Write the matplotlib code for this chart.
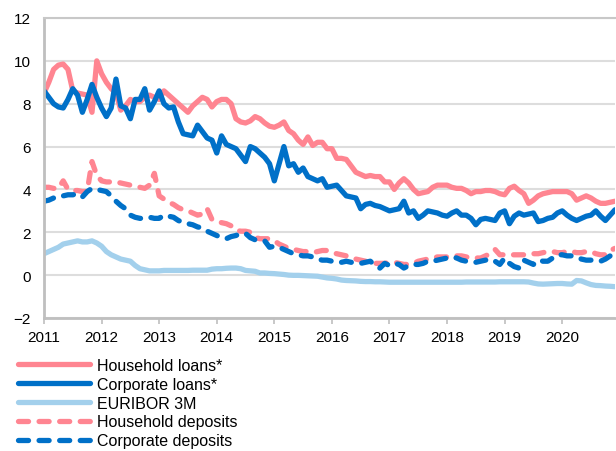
import numpy as np
import matplotlib.pyplot as plt

plt.rcParams['font.family'] = ['Liberation Sans', 'DejaVu Sans']

# monthly rates, Jan 2011 - Dec 2020 (one row per year)
household_loans = [
    8.5, 9.0, 9.6, 9.8, 9.85, 9.6, 8.6, 8.5, 8.45, 8.4, 7.6, 10.0,
    9.4, 9.0, 8.7, 8.5, 7.7, 7.9, 8.2, 8.1, 8.1, 8.3, 8.4, 8.3,
    8.2, 8.6, 8.4, 8.2, 8.0, 7.8, 7.6, 7.9, 8.1, 8.3, 8.2, 7.85,
    8.1, 8.2, 8.2, 8.0, 7.3, 7.15, 7.1, 7.2, 7.4, 7.3, 7.1, 6.95,
    6.9, 7.0, 7.15, 6.75, 6.6, 6.3, 6.1, 6.45, 6.05, 6.2, 6.2, 5.9,
    5.9, 5.45, 5.45, 5.4, 5.1, 4.8, 4.7, 4.6, 4.65, 4.6, 4.6, 4.35,
    4.35, 4.0, 4.3, 4.5, 4.3, 4.0, 3.8, 3.85, 3.9, 4.1, 4.2, 4.2,
    4.2, 4.1, 4.05, 4.05, 3.95, 3.8, 3.9, 3.9, 3.95, 3.95, 3.9, 3.8,
    3.75, 4.05, 4.15, 3.95, 3.8, 3.35, 3.5, 3.7, 3.8, 3.85, 3.9, 3.9,
    3.9, 3.9, 3.8, 3.5, 3.6, 3.7, 3.6, 3.45, 3.35, 3.35, 3.4, 3.45,
]
corporate_loans = [
    8.6, 8.3, 8.0, 7.85, 7.8, 8.2, 8.7, 8.4, 7.6, 8.2, 8.9, 8.3,
    7.8, 7.4, 7.8, 9.15, 7.9, 7.8, 7.3, 8.2, 8.2, 8.7, 7.7, 8.1,
    8.6, 8.0, 7.8, 7.85, 7.15, 6.6, 6.55, 6.5, 7.0, 6.7, 6.4, 6.3,
    5.7, 6.5, 6.1, 6.0, 5.9, 5.6, 5.3, 6.0, 5.9, 5.7, 5.5, 5.2,
    4.4, 5.2, 6.0, 5.1, 5.2, 4.8, 5.0, 4.6, 4.5, 4.4, 4.5, 4.1,
    4.15, 4.2, 3.95, 3.7, 3.65, 3.6, 3.1, 3.3, 3.35, 3.25, 3.2, 3.1,
    3.0, 3.05, 3.1, 3.45, 2.9, 3.0, 2.65, 2.8, 3.0, 2.95, 2.9, 2.8,
    2.75, 2.9, 3.0, 2.8, 2.8, 2.65, 2.35, 2.6, 2.65, 2.6, 2.55, 2.9,
    3.0, 2.4, 2.75, 2.9, 2.8, 2.85, 2.9, 2.5, 2.55, 2.65, 2.7, 2.9,
    3.0, 2.8, 2.65, 2.55, 2.65, 2.75, 2.8, 3.0, 2.75, 2.55, 2.8, 3.05,
]
euribor_3m = [
    1.0, 1.1, 1.2, 1.3, 1.45, 1.5, 1.55, 1.6, 1.55, 1.55, 1.6, 1.5,
    1.35, 1.1, 0.95, 0.85, 0.75, 0.7, 0.65, 0.45, 0.3, 0.25, 0.2, 0.2,
    0.2, 0.22, 0.22, 0.22, 0.22, 0.22, 0.22, 0.23, 0.23, 0.23, 0.23, 0.28,
    0.3, 0.3, 0.32, 0.33, 0.33, 0.3, 0.22, 0.2, 0.18, 0.1, 0.1, 0.08,
    0.07, 0.05, 0.03, 0.0, -0.01, -0.01, -0.02, -0.03, -0.04, -0.05, -0.09, -0.13,
    -0.15, -0.18, -0.23, -0.25, -0.26, -0.27, -0.29, -0.3, -0.3, -0.31, -0.31, -0.32,
    -0.33, -0.33, -0.33, -0.33, -0.33, -0.33, -0.33, -0.33, -0.33, -0.33, -0.33, -0.33,
    -0.33, -0.33, -0.33, -0.33, -0.32, -0.32, -0.32, -0.32, -0.32, -0.32, -0.32, -0.31,
    -0.31, -0.31, -0.31, -0.31, -0.31, -0.32, -0.37, -0.41, -0.42, -0.41, -0.40, -0.39,
    -0.39, -0.41, -0.42, -0.25, -0.27, -0.36, -0.44, -0.48, -0.49, -0.51, -0.52, -0.54,
]
household_deposits = [
    4.1, 4.1, 4.05, 4.05, 4.4, 4.0, 3.95, 3.95, 3.9, 3.9, 5.3, 4.65,
    4.4, 4.35, 4.35, 4.35, 4.3, 4.25, 4.2, 4.15, 4.1, 4.05, 4.2, 4.75,
    3.7, 3.55, 3.4, 3.3, 3.15, 3.05, 3.0, 2.9, 2.8, 2.85, 3.1, 2.6,
    2.5, 2.45, 2.4, 2.3, 2.1, 2.05, 2.05, 2.0, 1.75, 1.7, 1.7, 1.7,
    1.6, 1.45, 1.35, 1.25, 1.2, 1.15, 1.1, 1.1, 1.05, 1.1, 1.15, 1.15,
    1.05, 1.0, 0.95, 0.9, 0.8, 0.75, 0.7, 0.65, 0.6, 0.55, 0.55, 0.55,
    0.6, 0.6, 0.55, 0.5, 0.5, 0.55, 0.65, 0.7, 0.75, 0.8, 0.85, 0.85,
    0.85, 0.9, 0.9, 0.9, 0.85, 0.8, 0.8, 0.8, 0.9, 1.0, 1.2, 0.95,
    0.95, 0.95, 0.95, 0.95, 0.95, 1.0, 1.0, 1.0, 1.05, 1.1, 1.1, 1.05,
    1.05, 1.1, 1.1, 1.05, 1.05, 1.1, 1.1, 1.0, 0.95, 0.95, 1.15, 1.25,
]
corporate_deposits = [
    3.45, 3.5, 3.6, 3.6, 3.7, 3.75, 3.75, 3.8, 3.65, 3.9, 4.05, 4.0,
    3.95, 3.9, 3.7, 3.45, 3.25, 3.1, 2.8, 2.7, 2.65, 2.65, 2.7, 2.65,
    2.65, 2.8, 2.75, 2.7, 2.55, 2.45, 2.4, 2.35, 2.25, 2.2, 2.05, 1.95,
    1.85, 1.75, 1.7, 1.8, 1.85, 1.95, 1.95, 1.75, 1.65, 1.65, 1.6, 1.3,
    1.35, 1.3, 1.2, 1.1, 1.0, 0.95, 0.9, 0.9, 0.85, 0.75, 0.7, 0.7,
    0.65, 0.65, 0.6, 0.65, 0.6, 0.6, 0.55, 0.6, 0.65, 0.45, 0.33, 0.55,
    0.45, 0.55, 0.5, 0.33, 0.45, 0.5, 0.5, 0.55, 0.65, 0.65, 0.7, 0.75,
    0.8, 0.85, 0.8, 0.7, 0.65, 0.65, 0.6, 0.65, 0.7, 0.75, 0.65, 0.5,
    0.8, 0.55, 0.4, 0.33, 0.7, 0.6, 0.5, 0.7, 0.65, 0.65, 0.8, 0.95,
    0.95, 0.9, 0.9, 0.85, 0.75, 0.7, 0.7, 0.65, 0.65, 0.75, 0.9, 0.95,
]
years = [str(y) for y in range(2011, 2021)]

pink = '#FF8591'
blue = '#0070C8'
light = '#A3D0EC'

months = np.arange(len(household_loans))

fig = plt.figure(figsize=(6.16, 4.52), dpi=100)
ax = fig.add_axes([44 / 616, 1 - 319 / 452, 571 / 616, 300 / 452])

lw = 3.8
dash = (0, (1.9, 2.0))
ax.plot(months, household_loans, color=pink, lw=lw, label='Household loans*', solid_capstyle='round')
ax.plot(months, corporate_loans, color=blue, lw=lw, label='Corporate loans*', solid_capstyle='round')
ax.plot(months, euribor_3m, color=light, lw=lw, label='EURIBOR 3M', solid_capstyle='round')
ax.plot(months, household_deposits, color=pink, lw=lw, ls=dash,
        label='Household deposits', dash_capstyle='round')
ax.plot(months, corporate_deposits, color=blue, lw=lw, ls=dash,
        label='Corporate deposits', dash_capstyle='round')

ax.set_xlim(0, 119)
ax.set_ylim(-2, 12)
ax.set_yticks(range(-2, 13, 2))
ax.set_xticks(range(0, 120, 12))
ax.set_xticklabels(years)
ax.tick_params(axis='x', length=4, width=1.2, color='#BFBFBF', labelsize=11, pad=5)
ax.tick_params(axis='y', length=0, labelsize=11, pad=9.5)
ax.grid(axis='y', color='#DDDDDD', lw=1.5)
ax.set_axisbelow(True)
ax.spines['right'].set_visible(False)
ax.spines['top'].set_color('#C8C8C8')
ax.spines['top'].set_linewidth(1.5)
ax.spines['left'].set_color('#BFBFBF')
ax.spines['left'].set_linewidth(2)
ax.spines['bottom'].set_color('#BFBFBF')
ax.spines['bottom'].set_linewidth(2)

fig.legend(loc='upper left', bbox_to_anchor=(18 / 616, 1 - 359 / 452), frameon=False,
           fontsize=11.5, handlelength=4.5, handletextpad=0.44, labelspacing=0.24,
           borderpad=0, borderaxespad=0)

fig.savefig('out.png', dpi=100)
